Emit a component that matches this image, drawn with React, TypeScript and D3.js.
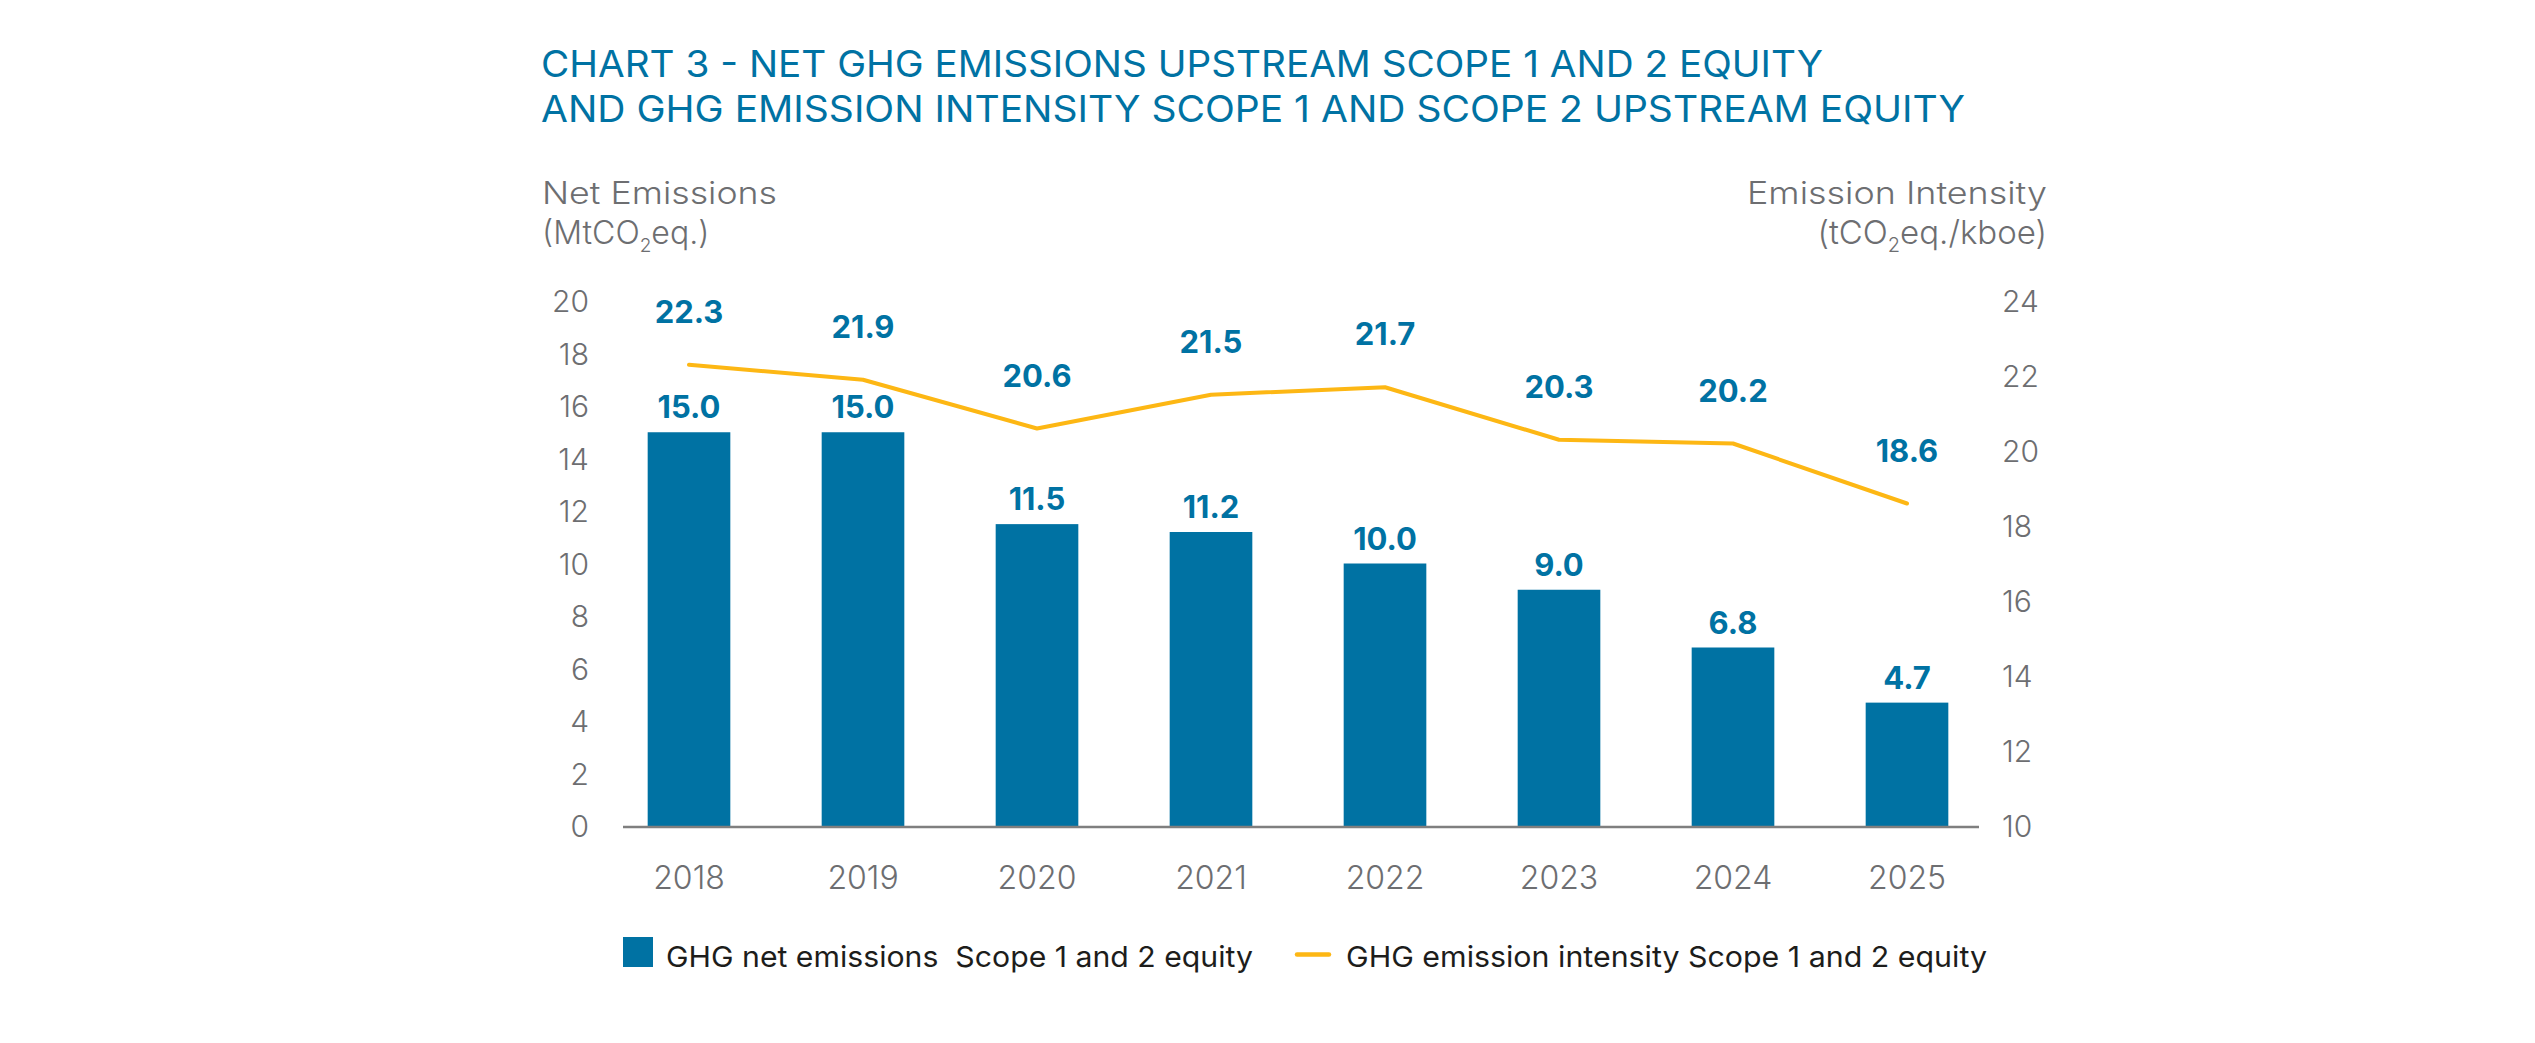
import React from "react";
import * as d3 from "d3";

const years = ["2018", "2019", "2020", "2021", "2022", "2023", "2024", "2025"];
const netEmissions = [15.0, 15.0, 11.5, 11.2, 10.0, 9.0, 6.8, 4.7];
const intensity = [22.3, 21.9, 20.6, 21.5, 21.7, 20.3, 20.2, 18.6];
const leftTicks = [0, 2, 4, 6, 8, 10, 12, 14, 16, 18, 20];
const rightTicks = [10, 12, 14, 16, 18, 20, 22, 24];

const titleLines = [
  "CHART 3 - NET GHG EMISSIONS UPSTREAM SCOPE 1 AND 2 EQUITY",
  "AND GHG EMISSION INTENSITY SCOPE 1 AND SCOPE 2 UPSTREAM EQUITY",
];
const legendBar = "GHG net emissions  Scope 1 and 2 equity";
const legendLine = "GHG emission intensity Scope 1 and 2 equity";

const W = 2535;
const H = 1043;
const BLUE = "#0072A3";
const ORANGE = "#FDB714";
const GREY = "#6D6E71";
const FONT = "Inter, 'Open Sans', sans-serif";

export default function App() {
  const x = d3.scaleBand<string>().domain(years).range([602, 1994]).padding(0);
  const yL = d3.scaleLinear().domain([0, 20]).range([826, 301]);
  const yR = d3.scaleLinear().domain([10, 24]).range([826, 301]);
  const barW = x.bandwidth() * 0.475;
  const cx = (d: string) => (x(d) as number) + x.bandwidth() / 2;

  const line = d3
    .line<number>()
    .x((_, i) => cx(years[i]))
    .y((v) => yR(v))
    .curve(d3.curveLinear);

  return (
    <svg
      width={W}
      height={H}
      viewBox={`0 0 ${W} ${H}`}
      style={{ position: "absolute", left: 0, top: 0, background: "#fff" }}
      fontFamily={FONT}
    >
      <rect x={0} y={0} width={W} height={H} fill="#fff" />
      {/* Title */}
      {titleLines.map((t, i) => (
        <text
          key={t}
          x={541}
          y={77 + i * 45}
          fontSize={37}
          fontWeight={400}
          fill={BLUE}
          textLength={i === 0 ? 1282 : 1424}
          lengthAdjust="spacingAndGlyphs"
        >
          {t}
        </text>
      ))}

      {/* Axis titles */}
      <text x={542} y={204} fontSize={31} fill={GREY} fontWeight={300} textLength={235} lengthAdjust="spacingAndGlyphs">
        Net Emissions
      </text>
      <text x={542} y={244} fontSize={32} fill={GREY} fontWeight={300}>
        (MtCO
        <tspan fontSize={19} dy={8}>2</tspan>
        <tspan dy={-8}>eq.)</tspan>
      </text>
      <text x={1747} y={204} fontSize={31} fill={GREY} fontWeight={300} textLength={300} lengthAdjust="spacingAndGlyphs">
        Emission Intensity
      </text>
      <text x={2047} y={244} fontSize={33} fill={GREY} fontWeight={300} textAnchor="end">
        (tCO
        <tspan fontSize={20} dy={8}>2</tspan>
        <tspan dy={-8}>eq./kboe)</tspan>
      </text>

      {/* Left ticks */}
      {leftTicks.map((t) => (
        <text key={"l" + t} x={589} y={yL(t) + 11} fontSize={30} fill={GREY} fontWeight={300} textAnchor="end">
          {t}
        </text>
      ))}
      {/* Right ticks */}
      {rightTicks.map((t) => (
        <text key={"r" + t} x={2002} y={yR(t) + 11} fontSize={30} fill={GREY} fontWeight={300} textAnchor="start">
          {t}
        </text>
      ))}

      {/* Bars */}
      {years.map((yr, i) => (
        <rect
          key={"b" + yr}
          x={cx(yr) - barW / 2}
          y={yL(netEmissions[i])}
          width={barW}
          height={yL(0) - yL(netEmissions[i])}
          fill={BLUE}
        />
      ))}

      {/* Axis line */}
      <line x1={623} x2={1979} y1={827} y2={827} stroke="#7F7F7F" strokeWidth={2.5} />

      {/* Year labels */}
      {years.map((yr) => (
        <text key={"x" + yr} x={cx(yr)} y={889} fontSize={32} fill={GREY} fontWeight={300} textAnchor="middle">
          {yr}
        </text>
      ))}

      {/* Bar value labels */}
      {years.map((yr, i) => (
        <text
          key={"bv" + yr}
          x={cx(yr)}
          y={yL(netEmissions[i]) - 14}
          fontSize={31}
          fontWeight={700}
          fill={BLUE}
          textAnchor="middle"
        >
          {netEmissions[i].toFixed(1)}
        </text>
      ))}

      {/* Intensity line */}
      <path d={line(intensity) || ""} fill="none" stroke={ORANGE} strokeWidth={4} strokeLinejoin="round" strokeLinecap="round" />

      {/* Line value labels */}
      {years.map((yr, i) => (
        <text
          key={"lv" + yr}
          x={cx(yr)}
          y={yR(intensity[i]) - 42}
          fontSize={31}
          fontWeight={700}
          fill={BLUE}
          textAnchor="middle"
        >
          {intensity[i].toFixed(1)}
        </text>
      ))}

      {/* Legend */}
      <rect x={623} y={937} width={30} height={30} fill={BLUE} />
      <text
        x={666}
        y={967}
        fontSize={29}
        fill="#1D1D1B"
        style={{ whiteSpace: "pre" }}
        textLength={587}
        lengthAdjust="spacingAndGlyphs"
      >
        {legendBar}
      </text>
      <line x1={1297} x2={1329} y1={954.5} y2={954.5} stroke={ORANGE} strokeWidth={4.5} strokeLinecap="round" />
      <text x={1346} y={967} fontSize={29} fill="#1D1D1B" textLength={641} lengthAdjust="spacingAndGlyphs">
        {legendLine}
      </text>
    </svg>
  );
}
